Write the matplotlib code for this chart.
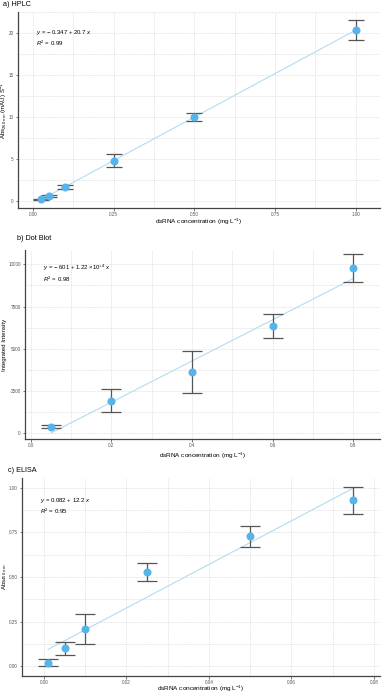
import matplotlib
matplotlib.use('Agg')
import matplotlib.pyplot as plt
from matplotlib.ticker import MultipleLocator, FormatStrFormatter
import numpy as np

plt.rcParams['font.family'] = ['Liberation Sans', 'DejaVu Sans']
plt.rcParams['mathtext.fontset'] = 'custom'
plt.rcParams['mathtext.rm'] = 'Liberation Sans'
plt.rcParams['mathtext.it'] = 'Liberation Sans:italic'

# ---------------- datos ----------------
# a) HPLC
hplc_x = [0.025, 0.05, 0.1, 0.25, 0.5, 1.0]
hplc_y = [0.2, 0.6, 1.7, 4.8, 10.0, 20.35]
hplc_err = [0.1, 0.1, 0.25, 0.8, 0.5, 1.2]
hplc_fit = (-0.347, 20.7)

# b) Dot Blot
dot_x = [0.05, 0.2, 0.4, 0.6, 0.8]
dot_y = [390, 1930, 3620, 6340, 9790]
dot_err = [100, 680, 1260, 720, 820]
dot_fit = (-601, 12200)

# c) ELISA
eli_x = [0.001, 0.005, 0.01, 0.025, 0.05, 0.075]
eli_y = [0.02, 0.10, 0.21, 0.527, 0.727, 0.93]
eli_err = [0.02, 0.035, 0.083, 0.05, 0.06, 0.075]
eli_fit = (0.082, 12.2)

W, H = 382, 697
fig = plt.figure(figsize=(W / 100, H / 100), dpi=100)


def make_ax(left, right, top, bottom):
    return fig.add_axes([left / W, 1 - bottom / H, (right - left) / W, (bottom - top) / H])


def style(ax, xmaj, ymaj):
    ax.xaxis.set_major_locator(MultipleLocator(xmaj))
    ax.xaxis.set_minor_locator(MultipleLocator(xmaj / 2))
    ax.yaxis.set_major_locator(MultipleLocator(ymaj))
    ax.yaxis.set_minor_locator(MultipleLocator(ymaj / 2))
    ax.grid(True, which='both', color='#dcdcdc', linestyle=(0, (1.5, 1)), linewidth=0.5)
    ax.set_axisbelow(True)
    for s in ['top', 'right']:
        ax.spines[s].set_visible(False)
    for s in ['left', 'bottom']:
        ax.spines[s].set_color('#444444')
        ax.spines[s].set_linewidth(0.9)
    ax.tick_params(which='major', length=1.8, width=0.5, color='#444444',
                   labelsize=3.3, labelcolor='#555555', pad=1.2)
    ax.tick_params(which='minor', length=0)


def labels(ax, xlab, ylab, xlab_y, ylab_x):
    # posiciones en pixeles de la figura -> coordenadas de ejes
    ax.set_xlabel(xlab, fontsize=4.6, va='center')
    ax.set_ylabel(ylab, fontsize=4.4, va='center')
    inv = ax.transAxes.inverted()
    _, yy = inv.transform(fig.transFigure.transform((0, 1 - xlab_y / H)))
    xx, _ = inv.transform(fig.transFigure.transform((ylab_x / W, 0)))
    ax.xaxis.set_label_coords(0.5, yy)
    ax.yaxis.set_label_coords(xx, 0.5)


def panel(ax, x, y, err, fit, capsize):
    xx = np.array([min(x), max(x)])
    ax.plot(xx, fit[0] + fit[1] * xx, color='#b3dcf2', linewidth=0.8, zorder=2)
    ax.errorbar(x, y, yerr=err, fmt='none', ecolor='#555555', elinewidth=0.9,
                capsize=capsize, capthick=0.9, zorder=3)
    ax.plot(x, y, 'o', color='#56B4E9', markersize=5.8, markeredgewidth=0, zorder=4)


xlab = 'dsRNA concentration (mg L$^{-1}$)'

# ---------------- a) HPLC ----------------
ax1 = make_ax(18, 380, 12, 208)
panel(ax1, hplc_x, hplc_y, hplc_err, hplc_fit, 5.8)
ax1.set_xlim(-0.047, 1.075)
ax1.set_ylim(-0.83, 22.5)
style(ax1, 0.25, 5)
ax1.xaxis.set_major_formatter(FormatStrFormatter('%.2f'))
labels(ax1, xlab, 'Abs$_{260\\ nm}$ (mAU) S$^{-1}$', 222, 4.3)
ax1.text(0.05, 0.895, '$\\it{y}$ = − 0.347 + 20.7 $\\it{x}$', transform=ax1.transAxes,
         fontsize=4.3, va='center')
ax1.text(0.05, 0.838, '$R^2$ = 0.99', transform=ax1.transAxes, fontsize=4.3, va='center')
fig.text(3 / W, 1 - 5 / H, 'a) HPLC', fontsize=5.2, va='center', ha='left')

# ---------------- b) Dot Blot ----------------
ax2 = make_ax(25, 380, 250, 439)
panel(ax2, dot_x, dot_y, dot_err, dot_fit, 7.2)
ax2.set_xlim(-0.014, 0.866)
ax2.set_ylim(-337, 10845)
style(ax2, 0.2, 2500)
ax2.xaxis.set_major_formatter(FormatStrFormatter('%.1f'))
labels(ax2, xlab, 'Integrated Intensity', 456, 4.5)
ax2.text(0.05, 0.905, '$\\it{y}$ = − 601 + 1.22 ×10$^{+4}$ $\\it{x}$', transform=ax2.transAxes,
         fontsize=4.3, va='center')
ax2.text(0.05, 0.847, '$R^2$ = 0.98', transform=ax2.transAxes, fontsize=4.3, va='center')
fig.text(17 / W, 1 - 238 / H, 'b) Dot Blot', fontsize=5.2, va='center', ha='left')

# ---------------- c) ELISA ----------------
ax3 = make_ax(21.7, 380, 478, 675.7)
panel(ax3, eli_x, eli_y, eli_err, eli_fit, 7.5)
ax3.set_xlim(-0.0054, 0.0815)
ax3.set_ylim(-0.053, 1.054)
style(ax3, 0.02, 0.25)
ax3.xaxis.set_major_formatter(FormatStrFormatter('%.2f'))
labels(ax3, xlab, 'Abs$_{450\\ nm}$', 689, 4.8)
ax3.text(0.05, 0.888, '$\\it{y}$ = 0.082 + 12.2 $\\it{x}$', transform=ax3.transAxes,
         fontsize=4.3, va='center')
ax3.text(0.05, 0.832, '$R^2$ = 0.95', transform=ax3.transAxes, fontsize=4.3, va='center')
fig.text(8 / W, 1 - 471 / H, 'c) ELISA', fontsize=5.2, va='center', ha='left')

fig.savefig('out.png', dpi=100)
